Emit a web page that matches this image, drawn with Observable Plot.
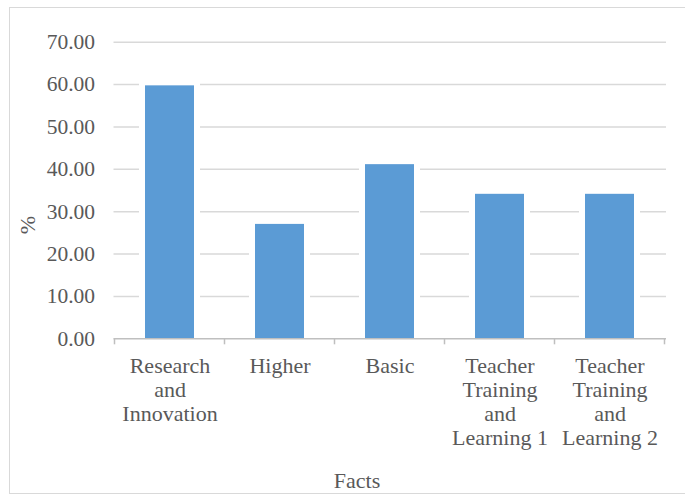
<!DOCTYPE html>
<html>
<head>
<meta charset="utf-8">
<script src="https://cdn.jsdelivr.net/npm/d3@7"></script>
<script src="https://cdn.jsdelivr.net/npm/@observablehq/plot@0.6"></script>
<style>
  html, body { margin: 0; padding: 0; background: #ffffff; }
  #wrap { position: relative; width: 685px; height: 496px; overflow: hidden; background: #ffffff; }
  #frame { position: absolute; left: 9px; top: 7px; width: 700px; height: 487px;
           border: 1.5px solid #d9d9d9; box-sizing: border-box; }
  #chart { position: absolute; left: 0; top: 0; }
  .lbl { position: absolute; font-family: "Liberation Serif", "Times New Roman", serif;
         font-size: 22px; color: #595959; white-space: nowrap; line-height: 1; }
  #ylab { left: 28px; top: 225px; transform: translate(-50%, -50%) rotate(-90deg); }
  #xlab { left: 357px; top: 481px; transform: translate(-50%, -50%); }
</style>
</head>
<body>
<div id="wrap">
  <div id="frame"></div>
  <div id="chart"></div>
  <div class="lbl" id="ylab">%</div>
  <div class="lbl" id="xlab">Facts</div>
</div>
<script>
const categories = [
  "Research and Innovation",
  "Higher",
  "Basic",
  "Teacher Training and Learning 1",
  "Teacher Training and Learning 2"
];
const categoryLabels = [
  "Research\nand\nInnovation",
  "Higher",
  "Basic",
  "Teacher\nTraining\nand\nLearning 1",
  "Teacher\nTraining\nand\nLearning 2"
];
const values = [59.7, 27.0, 41.1, 34.1, 34.1];
const yTicks = [0, 10, 20, 30, 40, 50, 60, 70];

const data = categories.map((c, i) => ({cat: c, label: categoryLabels[i], value: values[i]}));

const boundaryTicks = (index, scales, vals, dims) => {
  const x = scales.x, y = scales.y;
  const bw = x.bandwidth();
  const step = x.step();
  const gap = (step - bw) / 2;
  const bounds = categories.map(c => x(c) - gap);
  bounds.push(x(categories[categories.length - 1]) + bw + gap);
  const y0 = y(0);
  const g = d3.create("svg:g");
  g.selectAll("line").data(bounds).join("line")
    .attr("x1", d => d).attr("x2", d => d)
    .attr("y1", y0).attr("y2", y0 + 6)
    .attr("stroke", "#bfbfbf").attr("stroke-width", 1.5);
  return g.node();
};

const chart = Plot.plot({
  width: 685,
  height: 496,
  marginLeft: 113.5,
  marginRight: 19,
  marginTop: 41.7,
  marginBottom: 157.7,
  style: {fontFamily: "'Liberation Serif', 'Times New Roman', serif", fontSize: "22px", color: "#595959", background: "transparent"},
  x: {domain: categories, paddingInner: 0.553, paddingOuter: 0.2765, axis: null},
  y: {domain: [0, 70], axis: null},
  marks: [
    Plot.gridY(yTicks.filter(d => d > 0), {stroke: "#d9d9d9", strokeOpacity: 1, strokeWidth: 1.5}),
    Plot.barY(data, {x: "cat", y: "value", fill: "#ffffff", insetLeft: -6, insetRight: -6, insetTop: -5}),
    Plot.barY(data, {x: "cat", y: "value", fill: "#5b9bd5"}),
    Plot.ruleY([0], {stroke: "#bfbfbf", strokeWidth: 1.5}),
    boundaryTicks,
    Plot.axisY(yTicks, {tickFormat: d3.format(".2f"), tickSize: 0, tickPadding: 19, fontSize: 21.5, fill: "#595959", label: null}),
    Plot.text(data, {x: "cat", text: "label", frameAnchor: "bottom", lineAnchor: "top", dy: 16.8, lineHeight: 1.1, fontSize: 22, fill: "#595959"})
  ]
});
document.getElementById("chart").appendChild(chart);
</script>
</body>
</html>
